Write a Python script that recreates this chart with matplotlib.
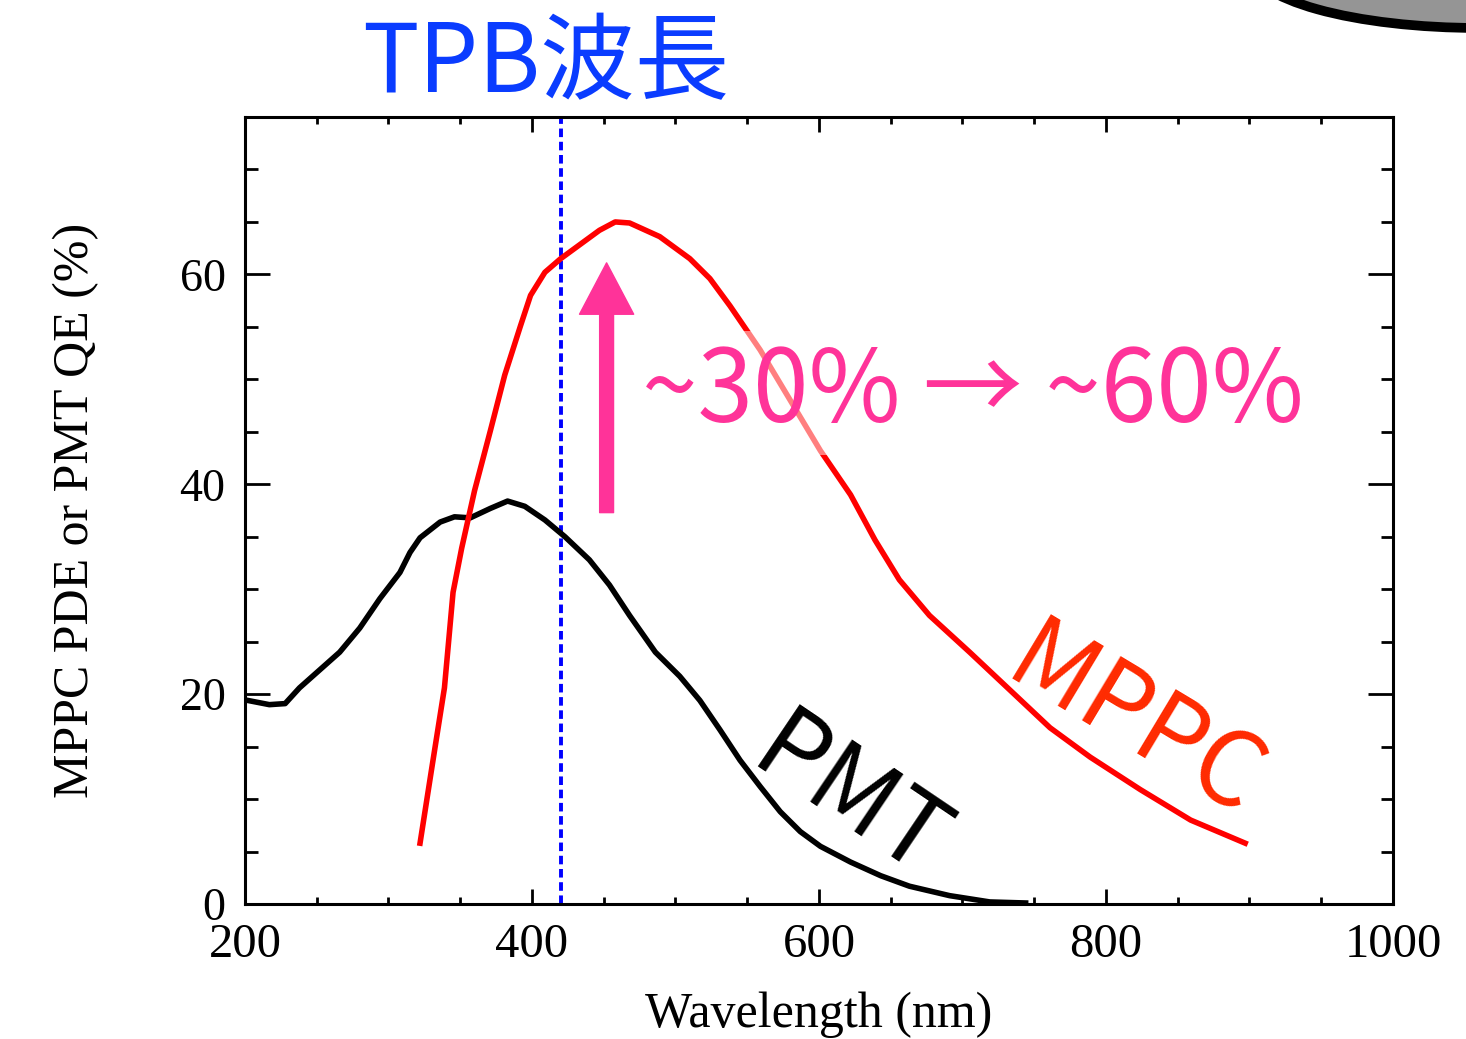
import numpy as np
import matplotlib.pyplot as plt
from matplotlib.patches import Ellipse
from matplotlib.ticker import MultipleLocator

plt.rcParams['font.family'] = ['Liberation Serif', 'DejaVu Serif']
sans = ['Noto Sans CJK JP', 'DejaVu Sans']

# PMT quantum efficiency (%)
pmt_wl = [202, 217, 228, 238, 252, 266, 280, 294, 308, 315, 322, 336, 346, 357,
          371, 383, 395, 409, 423, 440, 454, 468, 486, 503, 517, 531, 545, 559,
          573, 587, 601, 622, 643, 663, 691, 719, 744]
pmt_qe = [19.4, 19.0, 19.1, 20.6, 22.3, 24.0, 26.3, 29.1, 31.6, 33.5, 34.9, 36.4,
          36.9, 36.8, 37.7, 38.4, 37.9, 36.6, 35.0, 32.8, 30.4, 27.5, 24.0, 21.7,
          19.4, 16.6, 13.7, 11.2, 8.8, 6.9, 5.5, 4.0, 2.7, 1.7, 0.8, 0.2, 0.1]

# MPPC photon detection efficiency (%)
mppc_wl = [322, 330, 339, 345, 351, 360, 371, 381, 392, 399, 409, 420, 433, 447,
           458, 468, 489, 510, 524, 538, 559, 580, 601, 622, 639, 656, 677, 705,
           733, 761, 789, 824, 859, 897]
mppc_pde = [5.8, 12.8, 20.6, 29.7, 33.9, 39.4, 45.1, 50.4, 55.1, 58.0, 60.2, 61.5,
            62.8, 64.2, 65.0, 64.9, 63.6, 61.5, 59.6, 57.0, 52.8, 48.0, 43.2, 39.0,
            34.7, 30.9, 27.5, 24.0, 20.4, 16.8, 14.0, 10.9, 8.0, 5.8]

tpb_wl = 420

fig = plt.figure(figsize=(14.66, 10.39), dpi=100)
ax = fig.add_axes([0.1671, 0.1299, 0.7831, 0.7575])

ax.plot(pmt_wl, pmt_qe, color='black', lw=4, zorder=2, solid_joinstyle='round')
ax.plot(mppc_wl, mppc_pde, color='#ff0000', lw=4, zorder=2, solid_joinstyle='round')
ax.axvline(tpb_wl, color='#0000ff', lw=2.8, dashes=(2.2, 1.2), zorder=1)

ax.set_xlim(200, 1000)
ax.set_ylim(0, 75)
ax.xaxis.set_major_locator(MultipleLocator(200))
ax.xaxis.set_minor_locator(MultipleLocator(50))
ax.yaxis.set_major_locator(MultipleLocator(20))
ax.yaxis.set_minor_locator(MultipleLocator(5))
ax.tick_params(which='both', direction='in', top=True, right=True, width=2)
ax.tick_params(axis='x', which='major', length=11, labelsize=35, pad=14)
ax.tick_params(axis='x', which='minor', length=5)
ax.tick_params(axis='y', which='major', length=18, labelsize=33, pad=14)
ax.tick_params(axis='y', which='minor', length=9)
for s in ax.spines.values():
    s.set_linewidth(2.2)

ax.set_xlabel('Wavelength (nm)', fontsize=36, labelpad=17)
ax.set_ylabel('MPPC PDE or PMT QE (%)', fontsize=36, labelpad=58)

# annotations
ax.annotate('', xy=(452, 61.1), xytext=(452, 37.3),
            arrowprops=dict(width=10, headwidth=39, headlength=37,
                            color='#ff3399', shrink=0), zorder=3)
ax.text(707, 48.7, '~30% \u2192 ~60%', family=sans, fontsize=72, color='#ff3399',
        ha='center', va='center', zorder=4,
        bbox=dict(boxstyle='square,pad=0.1', fc='white', ec='none', alpha=0.5))
ax.text(621, 10.0, 'PMT', family=sans, fontsize=73, color='black',
        rotation=-34, ha='center', va='center', rotation_mode='anchor')
ax.text(820, 17.2, 'MPPC', family=sans, fontsize=73, color='#ff2a00',
        rotation=-31, ha='center', va='center', rotation_mode='anchor')

fig.text(0.372, 0.937, 'TPB波長', family=sans, fontsize=68, color='#0a3cff',
         ha='center', va='center')

# decorative shape clipped at top-right corner
fig.add_artist(Ellipse((1480 / 1466, 1 + 36 / 1039), 460 / 1466, 128 / 1039,
                       transform=fig.transFigure, fc='#959595', ec='black',
                       lw=7, clip_on=False))

fig.savefig('out.png', dpi=100)
